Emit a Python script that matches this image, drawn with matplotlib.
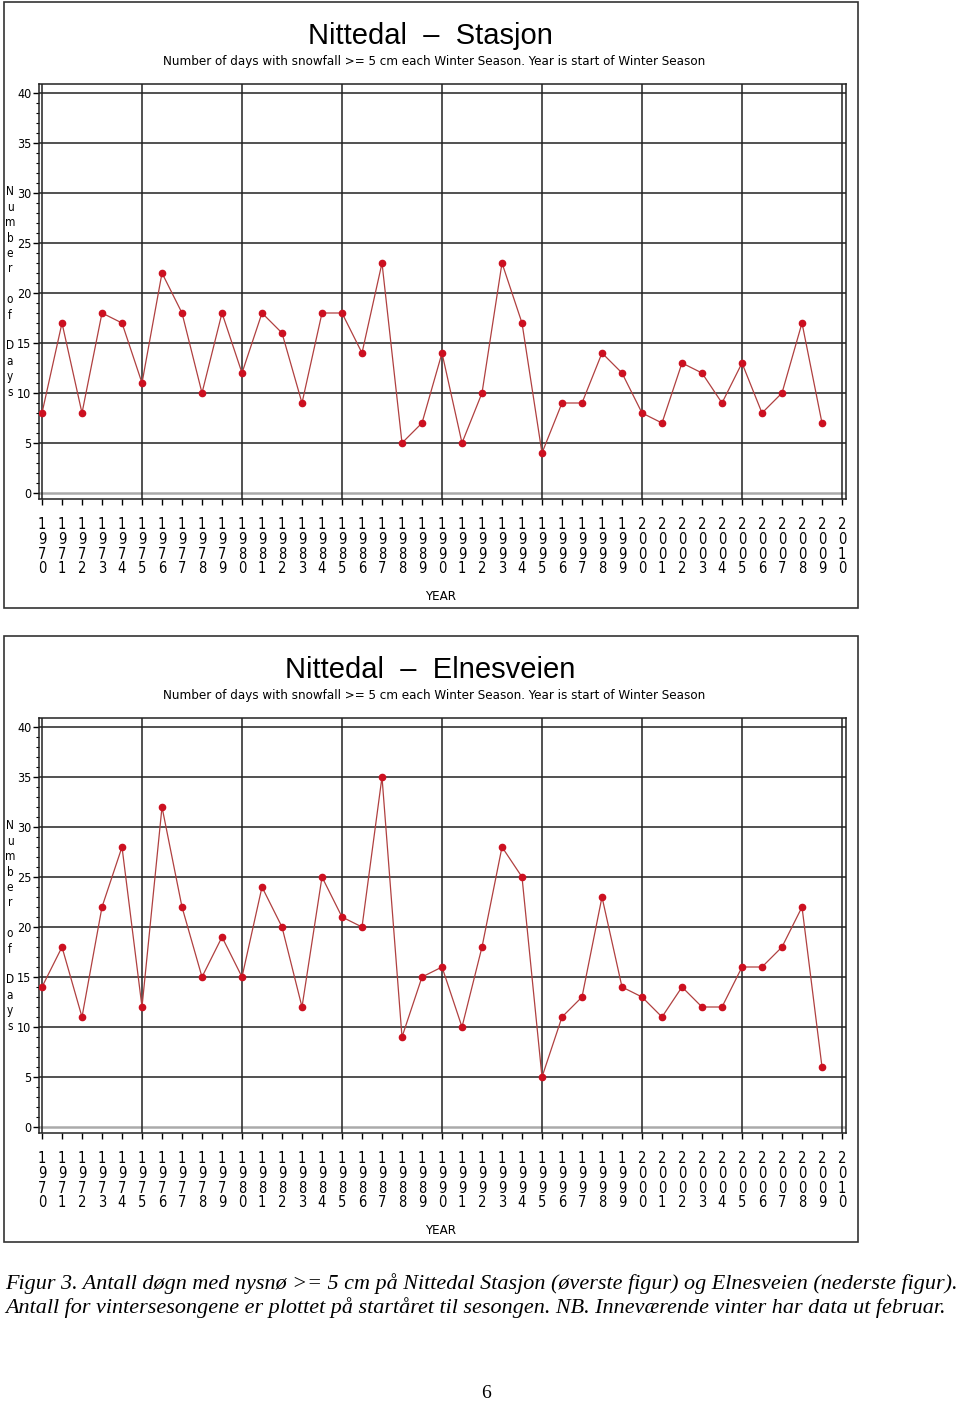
import numpy as np
import matplotlib.pyplot as plt
from matplotlib.patches import Rectangle

# winter seasons (year = start of season)
years = list(range(1970, 2010))

# Nittedal Stasjon
stasjon = [8, 17, 8, 18, 17, 11, 22, 18, 10, 18,
           12, 18, 16, 9, 18, 18, 14, 23, 5, 7,
           14, 5, 10, 23, 17, 4, 9, 9, 14, 12,
           8, 7, 13, 12, 9, 13, 8, 10, 17, 7]

# Nittedal Elnesveien
elnesveien = [14, 18, 11, 22, 28, 12, 32, 22, 15, 19,
              15, 24, 20, 12, 25, 21, 20, 35, 9, 15,
              16, 10, 18, 28, 25, 5, 11, 13, 23, 14,
              13, 11, 14, 12, 12, 16, 16, 18, 22, 6]

titles = ["Nittedal  \u2013  Stasjon", "Nittedal  \u2013  Elnesveien"]
subtitle = "Number of days with snowfall >= 5 cm each Winter Season. Year is start of Winter Season"
tick_years = list(range(1970, 2011))

W, H = 960, 1403
NARROW = dict(family="DejaVu Sans", stretch="condensed")

fig = plt.figure(figsize=(W / 100, H / 100), dpi=100)


def fx(px):
    return px / W


def fy(py):
    return 1 - py / H


def panel(off, title, values):
    # outer box
    fig.patches.append(Rectangle((fx(4), fy(off + 608)), fx(854), 606 / H,
                                 transform=fig.transFigure, fill=False,
                                 edgecolor="#333333", lw=1.2))
    fig.text(fx(430), fy(off + 36), title, ha="center", va="center",
             fontsize=21, family="Liberation Sans")
    fig.text(fx(434), fy(off + 62), subtitle, ha="center", va="center",
             fontsize=9.5, **NARROW)
    fig.text(fx(10), fy(off + 292), "\n".join(list("Number of Days")),
             ha="center", va="center", fontsize=8.5, linespacing=1.24,
             **NARROW)
    fig.text(fx(441), fy(off + 597), "YEAR", ha="center", va="center",
             fontsize=9.5, **NARROW)

    ax = fig.add_axes([fx(39), fy(off + 499), 807 / W, 415 / H])
    ax.set_xlim(1969.85, 2010.2)
    ax.set_ylim(-0.6, 40.9)
    for v in range(5, 45, 5):
        ax.axhline(v, color="#222222", lw=1.1, zorder=1)
    ax.axhline(0, color="#aaaaaa", lw=1.8, zorder=1)
    for v in range(1970, 2015, 5):
        ax.axvline(v, color="#222222", lw=1.1, zorder=1)

    ax.plot(years, values, color="#b04040", lw=0.9, zorder=3)
    ax.plot(years, values, "o", color="#cc1020", ms=4.5, zorder=4)

    ax.set_xticks(tick_years)
    ax.set_xticklabels(["\n".join(str(y)) for y in tick_years],
                       fontsize=10.5, linespacing=0.98, **NARROW)
    ax.set_yticks(range(0, 45, 5))
    ax.set_yticklabels([str(v) for v in range(0, 45, 5)], fontsize=9,
                       **NARROW)
    ax.set_yticks(range(0, 41), minor=True)
    ax.tick_params(axis="x", direction="out", length=4, width=1, pad=9)
    ax.tick_params(axis="y", which="major", direction="out", length=4, width=1, pad=1.5)
    ax.tick_params(axis="y", which="minor", direction="out", length=2.5, width=0.8)
    for s in ax.spines.values():
        s.set_color("#222222")
        s.set_linewidth(1.1)
    return ax


panel(0, titles[0], stasjon)
panel(634, titles[1], elnesveien)

caption = ("Figur 3. Antall d\u00f8gn med nysn\u00f8 >= 5 cm p\u00e5 Nittedal Stasjon "
           "(\u00f8verste figur) og Elnesveien (nederste figur).\n"
           "Antall for vintersesongene er plottet p\u00e5 start\u00e5ret til sesongen. "
           "NB. Innev\u00e6rende vinter har data ut februar.")
fig.text(fx(5), fy(1296), caption, ha="left", va="center", fontsize=15.9,
         family="Liberation Serif", style="italic", linespacing=1.2)
fig.text(fx(486), fy(1393), "6", ha="center", va="center", fontsize=14,
         family="Liberation Serif")

fig.savefig("out.png", dpi=100)
